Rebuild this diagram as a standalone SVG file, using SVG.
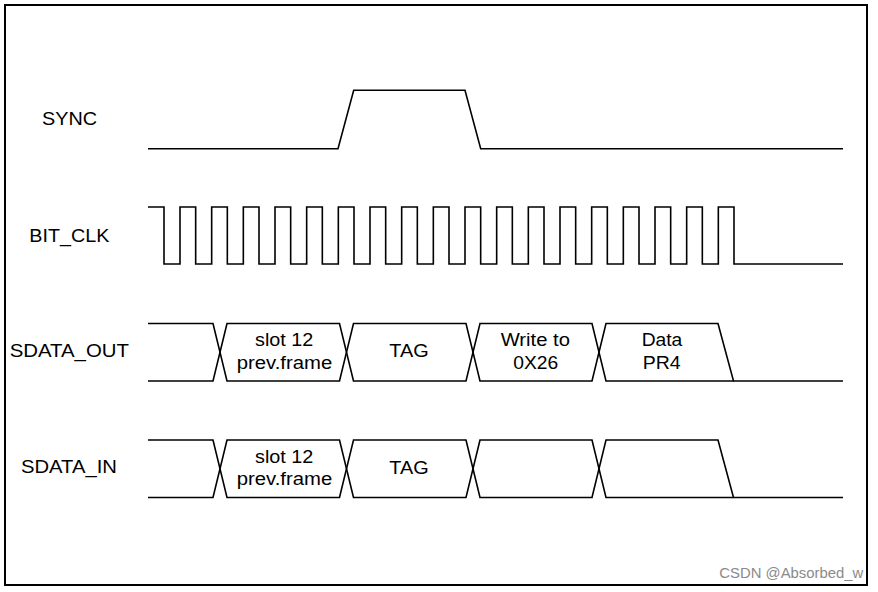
<svg xmlns="http://www.w3.org/2000/svg" width="878" height="592" viewBox="0 0 878 592">
<style>
.w{fill:none;stroke:#000;stroke-width:1.6;stroke-linejoin:miter}
.t{font-family:"Liberation Sans",Arial,sans-serif;font-size:17.5px;fill:#000}
.c{text-anchor:middle}
.wm{font-family:"Liberation Sans",Arial,sans-serif;font-size:14px;fill:#8a8a8a}
</style>
<rect x="0" y="0" width="878" height="592" fill="#fff"/>
<rect x="5" y="5" width="862" height="580" fill="none" stroke="#000" stroke-width="2"/>
<g id="sync">
<text class="t" x="42" y="125" textLength="55" lengthAdjust="spacingAndGlyphs">SYNC</text>
<path class="w" d="M148,148.7 H338 L353.7,90.3 H465 L480.7,148.7 H843"/>
</g>
<g id="bit_clk">
<text class="t" x="29.3" y="242" textLength="80" lengthAdjust="spacingAndGlyphs">BIT_CLK</text>
<path class="w" d="M148,207 H164 V264 H180 V207 H195.67 V264 H211.67 V207 H227.33 V264 H243.33 V207 H259 V264 H275 V207 H290.67 V264 H306.67 V207 H322.33 V264 H338.33 V207 H354 V264 H370 V207 H385.67 V264 H401.67 V207 H417.33 V264 H433.33 V207 H449 V264 H465 V207 H480.67 V264 H496.67 V207 H512.33 V264 H528.33 V207 H544 V264 H560 V207 H575.67 V264 H591.67 V207 H607.33 V264 H623.33 V207 H639 V264 H655 V207 H670.67 V264 H686.67 V207 H702.33 V264 H718.33 V207 H734 V264 H843"/>
</g>
<g id="sdata_out">
<text class="t" x="9.7" y="357" textLength="119.3" lengthAdjust="spacingAndGlyphs">SDATA_OUT</text>
<path class="w" d="M148,323.5 H213 L227,381 H339.5 L353.5,323.5 H466 L480,381 H592 L606,323.5 H718 L733.5,381 H843"/>
<path class="w" d="M148,381 H213 L227,323.5 H339.5 L353.5,381 H466 L480,323.5 H592 L606,381 H733.5"/>
<text class="t c" x="284.2" y="346" textLength="58.3" lengthAdjust="spacingAndGlyphs">slot 12</text>
<text class="t c" x="284.5" y="368.5" textLength="95.6" lengthAdjust="spacingAndGlyphs">prev.frame</text>
<text class="t c" x="409" y="357.3" textLength="39.4" lengthAdjust="spacingAndGlyphs">TAG</text>
<text class="t c" x="535.3" y="346" textLength="69.3" lengthAdjust="spacingAndGlyphs">Write to</text>
<text class="t c" x="535.8" y="368.5" textLength="45" lengthAdjust="spacingAndGlyphs">0X26</text>
<text class="t c" x="662" y="346" textLength="40.7" lengthAdjust="spacingAndGlyphs">Data</text>
<text class="t c" x="661.7" y="368.5" textLength="38" lengthAdjust="spacingAndGlyphs">PR4</text>
</g>
<g id="sdata_in">
<text class="t" x="21" y="473" textLength="96" lengthAdjust="spacingAndGlyphs">SDATA_IN</text>
<path class="w" d="M148,440 H213 L227,497.5 H339.5 L353.5,440 H466 L480,497.5 H592 L606,440 H718 L733.5,497.5 H843"/>
<path class="w" d="M148,497.5 H213 L227,440 H339.5 L353.5,497.5 H466 L480,440 H592 L606,497.5 H733.5"/>
<text class="t c" x="284.2" y="462.7" textLength="58.3" lengthAdjust="spacingAndGlyphs">slot 12</text>
<text class="t c" x="284.5" y="485.2" textLength="95.6" lengthAdjust="spacingAndGlyphs">prev.frame</text>
<text class="t c" x="409" y="473.5" textLength="39.4" lengthAdjust="spacingAndGlyphs">TAG</text>
</g>
<text class="wm" x="719.3" y="578.3" textLength="144" lengthAdjust="spacingAndGlyphs">CSDN @Absorbed_w</text>
</svg>
